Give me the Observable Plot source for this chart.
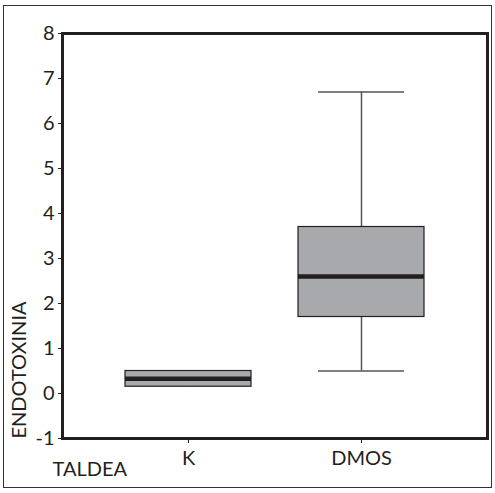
<!DOCTYPE html>
<html>
<head>
<meta charset="utf-8">
<script src="https://cdn.jsdelivr.net/npm/d3@7"></script>
<script src="https://cdn.jsdelivr.net/npm/@observablehq/plot@0.6"></script>
<style>
  html, body { margin: 0; padding: 0; background: #fff; }
  #wrap { position: relative; width: 495px; height: 493px; }
  #border { position: absolute; left: 3px; top: 5px; width: 487px; height: 481px; border: 1.5px solid #333; pointer-events: none; }
</style>
</head>
<body>
<div id="wrap"><div id="border"></div></div>
<script>
const categories = ["K", "DMOS"];
const mins    = [0.15, 0.5];
const q1s     = [0.15, 1.7];
const medians = [0.33, 2.6];
const q3s     = [0.5, 3.7];
const maxs    = [0.5, 6.7];
const yTicks  = [-1, 0, 1, 2, 3, 4, 5, 6, 7, 8];

const rows = categories.map((c, i) => ({cat: c, min: mins[i], q1: q1s[i], med: medians[i], q3: q3s[i], max: maxs[i]}));
const dark = "#231f20";

const chart = Plot.plot({
  width: 495,
  height: 493,
  marginLeft: 62,
  marginTop: 33,
  marginRight: 8,
  marginBottom: 55,
  style: {fontFamily: "Lato, 'Open Sans', sans-serif", fontSize: "20px", color: dark, background: "transparent"},
  x: {type: "band", domain: categories, paddingInner: 0.27, paddingOuter: 0.36, label: null},
  y: {domain: [-1, 8], label: null},
  marks: [
    Plot.ruleX(rows, {x: "cat", y1: "min", y2: "max", stroke: "#555", strokeWidth: 1.5}),
    Plot.tickY(rows, {filter: d => d.min < d.q1, x: "cat", y: "min", stroke: "#555", strokeWidth: 1.5, insetLeft: 20, insetRight: 20}),
    Plot.tickY(rows, {filter: d => d.max > d.q3, x: "cat", y: "max", stroke: "#555", strokeWidth: 1.5, insetLeft: 20, insetRight: 20}),
    Plot.barY(rows, {x: "cat", y1: "q1", y2: "q3", fill: "#a7a9ac", stroke: dark, strokeWidth: 1.2}),
    Plot.tickY(rows, {x: "cat", y: "med", stroke: dark, strokeWidth: 4.5}),
    Plot.axisY({ticks: yTicks, tickFormat: d => String(d), tickSize: 4, tickPadding: 4, label: null, fontSize: 20}),
    Plot.axisX({tickSize: 5, tickPadding: 7, label: null, fontSize: 20}),
    Plot.frame({stroke: dark, strokeWidth: 3}),
    Plot.text(["ENDOTOXINIA"], {frameAnchor: "bottom-left", dx: -37, rotate: -90, textAnchor: "start", fontSize: 20, fill: dark}),
    Plot.text(["TALDEA"], {frameAnchor: "bottom-left", dx: -10, dy: 37, textAnchor: "start", fontSize: 20, fill: dark})
  ]
});
chart.style.position = "absolute";
chart.style.left = "0";
chart.style.top = "0";
chart.style.overflow = "visible";
document.getElementById("wrap").appendChild(chart);
</script>
</body>
</html>
